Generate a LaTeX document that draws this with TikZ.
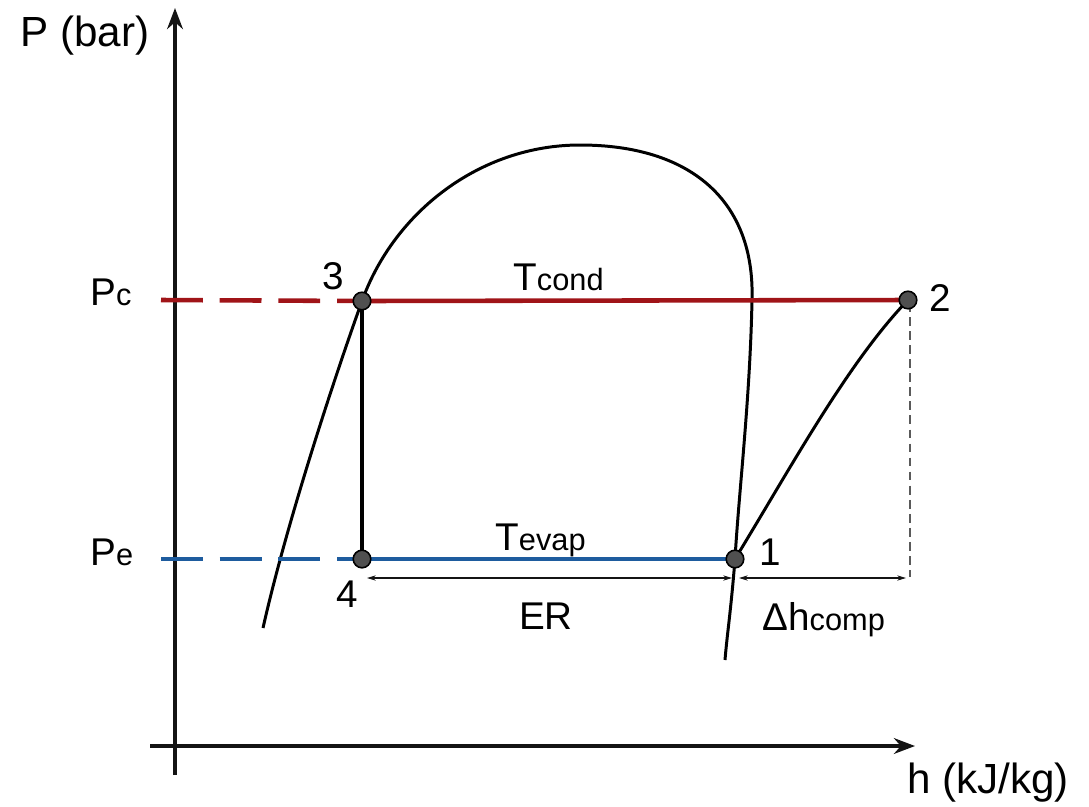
\documentclass[tikz,border=0pt]{standalone}
\usepackage{fontspec}
\setmainfont{Liberation Sans}
\usetikzlibrary{arrows.meta, positioning}
\definecolor{mydark}{RGB}{20,20,20}
\definecolor{mycond}{RGB}{160,20,24}
\definecolor{myevap}{RGB}{30,92,158}
\definecolor{mypoint}{RGB}{80,80,80}
\definecolor{myguide}{RGB}{90,90,90}
\tikzset{
  axis/.style={-{Stealth[length=12pt,width=9pt]}, line width=1.8pt, color=mydark},
  curve/.style={line width=1.7pt, color=black},
  isocond/.style={line width=2.6pt, color=mycond},
  isoevap/.style={line width=2.6pt, color=myevap},
  extend/.style={dash pattern=on 23.8pt off 9.6pt},
  guide/.style={line width=0.6pt, color=myguide, dash pattern=on 5pt off 3pt},
  span/.style={{Stealth[length=5pt,width=3pt]}-{Stealth[length=5pt,width=3pt]}, line width=0.6pt, color=mydark},
  state/.style={circle, draw=black, fill=mypoint, line width=0.9pt, minimum size=10pt, inner sep=0pt},
  lbl/.style={font=\fontsize{22}{26}\selectfont, inner sep=0pt}
}
\newcommand{\subtxt}[1]{{\fontsize{17.5}{20}\selectfont #1}}

\begin{document}
\begin{tikzpicture}[x=0.02cm, y=-0.02cm]
    \useasboundingbox (0,0) rectangle (1089,806);

    % Axes
    \coordinate (ybot) at (175,775);
    \coordinate (ytop) at (175,8);
    \coordinate (xleft) at (150,746);
    \coordinate (xright) at (915,746);
    \draw[axis] (ybot) -- (ytop);
    \draw[axis] (xleft) -- (xright);
    \node[lbl, font=\fontsize{24}{28}\selectfont] (ylab) at (85,36) {P (bar)};
    \node[lbl, font=\fontsize{24}{28}\selectfont] (xlab) at (988,783) {h (kJ/kg)};

    % States of the cycle
    \coordinate (s1) at (735,559);
    \coordinate (s2) at (908,300);
    \coordinate (s3) at (362,301);
    \coordinate (s4) at (362,559);
    \coordinate (pc) at (161,300);
    \coordinate (pe) at (161,559);
    \coordinate (liq) at (263,628);
    \coordinate (top) at (580,145);
    \coordinate (vap) at (752,300);
    \coordinate (vapend) at (725,660);

    % Saturation dome
    \draw[curve] (liq) .. controls (285,530) and (330,390) .. (s3)
      .. controls (394,212) and (480,145) .. (top)
      .. controls (690,145) and (755,200) .. (vap)
      .. controls (750,400) and (739,490) .. (s1)
      .. controls (731,610) and (727,635) .. (vapend);

    % Isobars
    \draw[isocond, extend] (pc) -- (s3);
    \draw[isocond] (s3) -- (s2);
    \draw[isoevap, extend] (pe) -- (s4);
    \draw[isoevap] (s4) -- (s1);

    % Expansion and compression
    \draw[curve, line width=2pt] (s3) -- (s4);
    \draw[curve] (s1) .. controls (790,469) and (848,362) .. (s2);

    % Enthalpy differences
    \coordinate (g2) at (910,303);
    \coordinate (g2b) at (910,577);
    \draw[guide] (g2) -- (g2b);
    \coordinate (erL) at (367,578);
    \coordinate (erR) at (732,578);
    \coordinate (dhL) at (739,578);
    \coordinate (dhR) at (906,578);
    \draw[span] (erL) -- (erR);
    \draw[span] (dhL) -- (dhR);

    % State points
    \foreach \s in {s1,s2,s3,s4}
      \node[state] at (\s) {};

    % Labels
    \node[lbl, anchor=base west] (lpc) at (90,305) {P\subtxt{c}};
    \node[lbl, anchor=base west] (lpe) at (90,565) {P\subtxt{e}};
    \node[lbl] (n1) at (770,552) {1};
    \node[lbl] (n2) at (940,298) {2};
    \node[lbl] (n3) at (333,276) {3};
    \node[lbl] (n4) at (347,594) {4};
    \node[lbl, anchor=base west] (tcond) at (513,290) {T\subtxt{cond}};
    \node[lbl, anchor=base west] (tevap) at (495,550) {T\subtxt{evap}};
    \node[lbl] (er) at (546,616) {ER};
    \node[lbl, anchor=base west] (dh) at (762,630) {Δh\subtxt{comp}};
  \end{tikzpicture}
\end{document}
